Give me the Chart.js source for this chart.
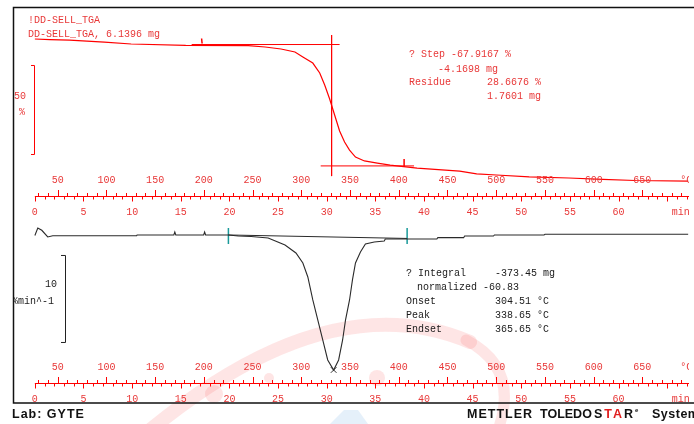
<!DOCTYPE html>
<html>
<head>
<meta charset="utf-8">
<script src="https://cdn.jsdelivr.net/npm/chart.js@4.4.1/dist/chart.umd.min.js"></script>
<style>
    html, body { margin: 0; padding: 0; background: #fff; }
    canvas { display: block; }
</style>
</head>
<body>
<canvas id="tgaChart" width="694" height="424"></canvas>
<script>
// TGA curve: sample temperature (°C) vs mass (%)
const tgaTemp = [26.6, 41.9, 62.2, 97.9, 125.4, 181.4, 245.6, 262.9, 279.2, 293.5, 301.6, 311.8, 318.9, 324.0, 329.1, 334.2,
    339.3, 344.4, 349.5, 355.6, 364.8, 378.0, 391.2, 418.8, 462.5, 479.9, 500.2, 533.9, 574.6, 609.2, 642.8, 697.0];
const tgaMass = [100.0, 99.7, 99.4, 98.3, 97.2, 96.4, 96.3, 95.5, 94.4, 92.7, 89.9, 86.5, 80.9, 74.2, 66.3, 57.3,
    48.3, 42.1, 37.6, 33.7, 31.5, 30.3, 29.2, 27.5, 25.8, 24.2, 23.6, 22.5, 21.9, 21.1, 20.5, 20.2];

// DTG curve: temperature (°C) vs rate (%/min)
const dtgTemp = [26.6, 29.6, 33.7, 39.8, 45.0, 131.0, 131.5, 169.2, 170.2, 171.2, 199.8, 200.8, 201.8, 225.2, 235.4, 248.6,
    266.0, 283.3, 294.5, 301.6, 306.7, 311.8, 316.9, 322.0, 327.1, 333.2, 338.3, 342.4, 345.4, 349.5, 352.5, 355.6,
    360.7, 365.8, 374.9, 385.1, 386.2, 439.1, 440.1, 466.6, 467.6, 497.2, 498.2, 549.1, 550.1, 697.0];
const dtgRate = [0.0, 0.86, 0.6, -0.17, -0.03, -0.03, 0.06, 0.06, 0.4, 0.06, 0.06, 0.4, 0.06, 0.06, -0.06, -0.11,
    -0.29, -1.09, -2.01, -3.16, -4.77, -7.41, -9.71, -12.01, -14.31, -15.46, -14.31, -12.01, -9.71, -7.41, -5.11, -3.16,
    -1.90, -0.98, -0.75, -0.63, -0.40, -0.40, -0.25, -0.25, -0.06, -0.06, 0.06, 0.06, 0.14, 0.14];

// step evaluation (TGA)
const stepUpper = [[187.5, 96.9], [339.3, 96.9]];
const stepLower = [[319.9, 28.7], [415.7, 28.7]];
const stepCross = [[331.1, 102.2], [331.1, 23.0]];
const tgaLimitA = [[197.7, 100.3], [198.2, 97.5]];
const tgaLimitB = [[405.5, 32.6], [405.5, 28.1]];

// integral evaluation (DTG)
const dtgBaseline = [[225.2, 0.06], [408.6, -0.34]];
const dtgLimitA = [[225.2, 0.86], [225.2, -0.98]];
const dtgLimitB = [[408.6, 0.86], [408.6, -0.98]];
const dtgPeak = [[333.2, -15.46]];

// ruler tick labels
const tempTicks = [50, 100, 150, 200, 250, 300, 350, 400, 450, 500, 550, 600, 650];
const timeTicks = [0, 5, 10, 15, 20, 25, 30, 35, 40, 45, 50, 55, 60];

const RED = '#ff0000';
const RED_TEXT = '#e83838';
const MONO = '10px "Liberation Mono", "DejaVu Sans Mono", monospace';

function pts(arr) {
    return arr.map(p => ({ x: p[0], y: p[1] }));
}

function lineSet(arr, color, axis, width) {
    return {
        data: pts(arr),
        borderColor: color,
        borderWidth: width || 1,
        yAxisID: axis,
        pointRadius: 0,
        fill: false
    };
}

function text(ctx, str, x, y, color, align) {
    ctx.fillStyle = color;
    ctx.textAlign = align || 'left';
    ctx.fillText(str, x, y);
}

// temperature ruler (above the line) + time ruler (below the line)
function drawRuler(chart, y) {
    const ctx = chart.ctx;
    const xs = chart.scales.x, ts = chart.scales.xt;
    const right = chart.chartArea.right;
    ctx.strokeStyle = RED;
    ctx.lineWidth = 1;
    ctx.beginPath();
    ctx.moveTo(ts.getPixelForValue(0), y + 0.5);
    ctx.lineTo(right, y + 0.5);
    for (let T = 30; T <= 700; T += 10) {
        const px = Math.round(xs.getPixelForValue(T)) + 0.5;
        const len = T % 50 === 0 ? 6 : 3;
        ctx.moveTo(px, y - len);
        ctx.lineTo(px, y + 0.5);
    }
    for (let m = 0; m <= 67; m++) {
        const px = Math.round(ts.getPixelForValue(m)) + 0.5;
        const len = m % 5 === 0 ? 5 : 3;
        ctx.moveTo(px, y + 0.5);
        ctx.lineTo(px, y + len + 0.5);
    }
    ctx.stroke();

    ctx.font = MONO;
    ctx.textBaseline = 'middle';
    tempTicks.forEach(T => text(ctx, String(T), xs.getPixelForValue(T), y - 16, RED_TEXT, 'center'));
    timeTicks.forEach(m => text(ctx, String(m), ts.getPixelForValue(m), y + 16, RED_TEXT, 'center'));
    text(ctx, '°C', xs.getPixelForValue(695), y - 16, RED_TEXT, 'center');
    text(ctx, 'min', ts.getPixelForValue(66.4), y + 16, RED_TEXT, 'center');
}

const overlay = {
    id: 'overlay',
    beforeDatasetsDraw(chart) {
        // faint watermark from the scanned sheet
        const ctx = chart.ctx;
        ctx.save();
        ctx.lineCap = 'round';
        ctx.strokeStyle = 'rgba(245, 80, 80, 0.15)';
        ctx.lineWidth = 14;
        ctx.beginPath();
        ctx.moveTo(150, 430);
        ctx.quadraticCurveTo(330, 282, 470, 342);
        ctx.stroke();
        ctx.lineWidth = 11;
        ctx.beginPath();
        ctx.moveTo(466, 340);
        ctx.quadraticCurveTo(520, 368, 498, 430);
        ctx.stroke();
        ctx.fillStyle = 'rgba(245, 80, 80, 0.15)';
        [[214, 394, 9], [269, 378, 5], [377, 378, 8]].forEach(c => {
            ctx.beginPath();
            ctx.arc(c[0], c[1], c[2], 0, Math.PI * 2);
            ctx.fill();
        });
        ctx.fillStyle = 'rgba(110, 170, 230, 0.18)';
        ctx.beginPath();
        ctx.moveTo(344, 410);
        ctx.lineTo(358, 410);
        ctx.lineTo(368, 424);
        ctx.lineTo(330, 424);
        ctx.closePath();
        ctx.fill();
        ctx.restore();
    },
    afterDatasetsDraw(chart) {
        const { ctx, chartArea: a, scales } = chart;
        ctx.save();
        ctx.beginPath();
        ctx.rect(a.left, a.top, a.right - a.left, a.bottom - a.top);
        ctx.clip();

        drawRuler(chart, 196);
        drawRuler(chart, 383);

        // scale bars
        ctx.lineWidth = 1;
        const tTop = scales.yT.getPixelForValue(85.4), tBot = scales.yT.getPixelForValue(35.4);
        ctx.strokeStyle = RED;
        ctx.beginPath();
        ctx.moveTo(31, tTop + 0.5); ctx.lineTo(34.5, tTop + 0.5); ctx.lineTo(34.5, tBot + 0.5); ctx.lineTo(31, tBot + 0.5);
        ctx.stroke();
        const dTop = scales.yD.getPixelForValue(-2.24), dBot = scales.yD.getPixelForValue(-12.24);
        ctx.strokeStyle = '#222';
        ctx.beginPath();
        ctx.moveTo(61, dTop + 0.5); ctx.lineTo(65.5, dTop + 0.5); ctx.lineTo(65.5, dBot + 0.5); ctx.lineTo(61, dBot + 0.5);
        ctx.stroke();

        ctx.font = MONO;
        ctx.textBaseline = 'middle';
        text(ctx, '50', 20, 96, RED_TEXT, 'center');
        text(ctx, '%', 22, 112, RED_TEXT, 'center');
        text(ctx, '10', 51, 284, '#222', 'center');
        text(ctx, '%min^-1', 54, 301, '#222', 'right');

        // TGA annotations
        text(ctx, '!DD-SELL_TGA', 28, 20, RED_TEXT);
        text(ctx, 'DD-SELL_TGA, 6.1396 mg', 28, 34, RED_TEXT);
        text(ctx, '? Step -67.9167 %', 409, 54, RED_TEXT);
        text(ctx, '-4.1698 mg', 438, 69, RED_TEXT);
        text(ctx, 'Residue', 409, 82, RED_TEXT);
        text(ctx, '28.6676 %', 487, 82, RED_TEXT);
        text(ctx, '1.7601 mg', 487, 96, RED_TEXT);

        // DTG annotations
        const K = '#1a1a1a';
        text(ctx, '? Integral', 406, 273, K);
        text(ctx, '-373.45 mg', 495, 273, K);
        text(ctx, 'normalized -60.83', 417, 287, K);
        text(ctx, 'Onset', 406, 301, K);
        text(ctx, '304.51 °C', 495, 301, K);
        text(ctx, 'Peak', 406, 315, K);
        text(ctx, '338.65 °C', 495, 315, K);
        text(ctx, 'Endset', 406, 329, K);
        text(ctx, '365.65 °C', 495, 329, K);
        ctx.restore();

        // frame
        ctx.save();
        ctx.strokeStyle = '#111';
        ctx.lineWidth = 1.5;
        ctx.beginPath();
        ctx.moveTo(700, 7.5); ctx.lineTo(13.5, 7.5); ctx.lineTo(13.5, 403); ctx.lineTo(700, 403);
        ctx.stroke();

        // footer
        const BOLD = 'bold 12.5px "Liberation Sans", Arial, sans-serif';
        ctx.font = BOLD;
        ctx.textBaseline = 'middle';
        ctx.letterSpacing = '1px';
        text(ctx, 'Lab: GYTE', 12, 415, '#111');
        text(ctx, 'METTLER', 467, 415, '#111');
        ctx.letterSpacing = '0px';
        text(ctx, 'TOLEDO', 540, 415, '#111');
        ctx.letterSpacing = '2px';
        let x = 594;
        text(ctx, 'S', x, 415, '#111'); x += ctx.measureText('S').width;
        text(ctx, 'TA', x, 415, '#e01e1e'); x += ctx.measureText('TA').width;
        text(ctx, 'R', x, 415, '#111'); x += ctx.measureText('R').width;
        ctx.letterSpacing = '0px';
        ctx.font = 'bold 6px "Liberation Sans", Arial, sans-serif';
        text(ctx, 'e', x, 410, '#111');
        ctx.font = BOLD;
        ctx.letterSpacing = '0.5px';
        text(ctx, 'System', 652, 415, '#111');
        ctx.restore();
    }
};

const ctx = document.getElementById('tgaChart').getContext('2d');

new Chart(ctx, {
    type: 'line',
    data: {
        datasets: [
            lineSet(tgaTemp.map((T, i) => [T, tgaMass[i]]), RED, 'yT', 1.2),
            lineSet(stepUpper, RED, 'yT'),
            lineSet(stepLower, RED, 'yT'),
            lineSet(stepCross, RED, 'yT'),
            lineSet(tgaLimitA, RED, 'yT', 1.5),
            lineSet(tgaLimitB, RED, 'yT', 1.5),
            lineSet(dtgTemp.map((T, i) => [T, dtgRate[i]]), '#2a2a2a', 'yD', 1.1),
            lineSet(dtgBaseline, '#2a2a2a', 'yD'),
            lineSet(dtgLimitA, '#1a9a9a', 'yD', 1.5),
            lineSet(dtgLimitB, '#1a9a9a', 'yD', 1.5),
            {
                data: pts(dtgPeak),
                yAxisID: 'yD',
                showLine: false,
                pointStyle: 'crossRot',
                pointRadius: 4,
                borderColor: '#333',
                borderWidth: 1
            }
        ]
    },
    options: {
        responsive: false,
        animation: false,
        devicePixelRatio: 1,
        layout: { padding: { left: 14, top: 8, right: 0, bottom: 22 } },
        plugins: {
            legend: { display: false },
            tooltip: { enabled: false }
        },
        elements: { line: { tension: 0 } },
        scales: {
            x: { type: 'linear', display: false, min: 5.18, max: 697.85 },
            xt: { type: 'linear', axis: 'x', display: false, min: -2.143, max: 67.245 },
            yT: { type: 'linear', axis: 'y', display: false, min: -103.93, max: 117.42 },
            yD: { type: 'linear', axis: 'y', display: false, min: -19.14, max: 26.15 }
        }
    },
    plugins: [overlay]
});
</script>
</body>
</html>
